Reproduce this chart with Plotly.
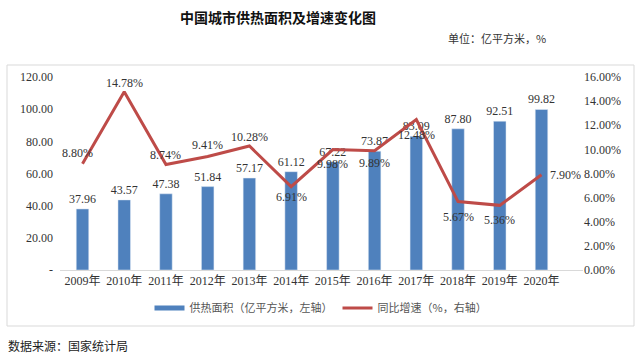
import plotly.graph_objects as go

years = ["2009年", "2010年", "2011年", "2012年", "2013年", "2014年",
         "2015年", "2016年", "2017年", "2018年", "2019年", "2020年"]
area = [37.96, 43.57, 47.38, 51.84, 57.17, 61.12, 67.22, 73.87, 83.09, 87.80, 92.51, 99.82]
growth = [8.80, 14.78, 8.74, 9.41, 10.28, 6.91, 9.98, 9.89, 12.48, 5.67, 5.36, 7.90]
left_ticks = [0, 20, 40, 60, 80, 100, 120]
left_text = ["-", "20.00", "40.00", "60.00", "80.00", "100.00", "120.00"]
right_ticks = [0, 2, 4, 6, 8, 10, 12, 14, 16]
right_text = ["%.2f%%" % v for v in right_ticks]

# label offsets (style) for the growth-rate labels, in pixels
label_dx = [-5, 0, 0, 0, 0, 0, 0, 0, 0, 0, 0, 24]
label_dy = [11, 9, 10, 11, 9, -10, -14, -12, -16, -15, -15, 0]

SERIF = "Liberation Serif, Noto Sans CJK SC"
CJK = "Noto Sans CJK SC"
TXT = "#333333"
BLUE = "#4F81BD"
RED = "#BE4B48"

# plot area in pixels: x 60..583, y 77..270
def px(x):
    return (x - 60) / 523

def py(y):
    return (270 - y) / 193

fig = go.Figure()
fig.add_trace(go.Bar(
    x=years, y=area, name="供热面积（亿平方米，左轴）", showlegend=False,
    marker=dict(color=BLUE), width=0.3,
    text=["%.2f" % v for v in area], textposition="outside", constraintext="none",
    textfont=dict(family=SERIF, size=12, color=TXT), cliponaxis=False,
))
fig.add_trace(go.Scatter(
    x=years, y=growth, name="同比增速（%，右轴）", yaxis="y2", showlegend=False,
    mode="lines", line=dict(color=RED, width=3), cliponaxis=False,
))
# legend swatches (line-style, as in the reference)
fig.add_trace(go.Scatter(x=[years[0]], y=[None], mode="lines", name="供热面积（亿平方米，左轴）",
                         line=dict(color=BLUE, width=5)))
fig.add_trace(go.Scatter(x=[years[0]], y=[None], mode="lines", name="同比增速（%，右轴）",
                         line=dict(color=RED, width=3)))

annotations = [
    dict(x=yr, y=g, xref="x", yref="y2", text="%.2f%%" % g, showarrow=False,
         xshift=dx, yshift=dy, xanchor="center", yanchor="middle",
         font=dict(family=SERIF, size=12, color=TXT))
    for yr, g, dx, dy in zip(years, growth, label_dx, label_dy)
]
annotations += [
    dict(text="<b>中国城市供热面积及增速变化图</b>", xref="paper", yref="paper",
         x=px(278), y=py(17), xanchor="center", yanchor="middle",
         showarrow=False, font=dict(family=CJK, size=14, color="#111111")),
    dict(text="单位：亿平方米，%", xref="paper", yref="paper",
         x=px(548), y=py(38), xanchor="right", yanchor="middle",
         showarrow=False, font=dict(family=CJK, size=11, color="#333333")),
    dict(text="数据来源：国家统计局", xref="paper", yref="paper",
         x=px(6), y=py(345), xanchor="left", yanchor="middle",
         showarrow=False, font=dict(family=CJK, size=12, color="#222222")),
]

fig.update_layout(
    width=640, height=357,
    margin=dict(l=60, r=57, t=77, b=87),
    paper_bgcolor="white", plot_bgcolor="white",
    showlegend=True,
    legend=dict(orientation="h", x=px(321), xanchor="center", y=py(308), yanchor="middle",
                font=dict(family=CJK, size=11, color="#555555"), traceorder="normal",
                itemwidth=30, bgcolor="rgba(0,0,0,0)"),
    xaxis=dict(showgrid=False, showline=True, linecolor="#D9D9D9", linewidth=1,
               tickfont=dict(family=SERIF, size=12, color=TXT), ticks=""),
    yaxis=dict(range=[0, 120], tickvals=left_ticks, ticktext=left_text, showgrid=False,
               zeroline=False, ticklabelstandoff=6,
               tickfont=dict(family=SERIF, size=12, color=TXT)),
    yaxis2=dict(range=[0, 16], tickvals=right_ticks, ticktext=right_text, overlaying="y",
                side="right", showgrid=False, zeroline=False,
                tickfont=dict(family=SERIF, size=12, color=TXT)),
    shapes=[dict(type="rect", xref="paper", yref="paper",
                 x0=px(7), x1=px(634), y0=py(326), y1=py(65),
                 line=dict(color="#D9D9D9", width=1), layer="below")],
    annotations=annotations,
)

fig.write_html("out.html", config={"displayModeBar": False},
               post_script="document.body.style.margin='0';")
